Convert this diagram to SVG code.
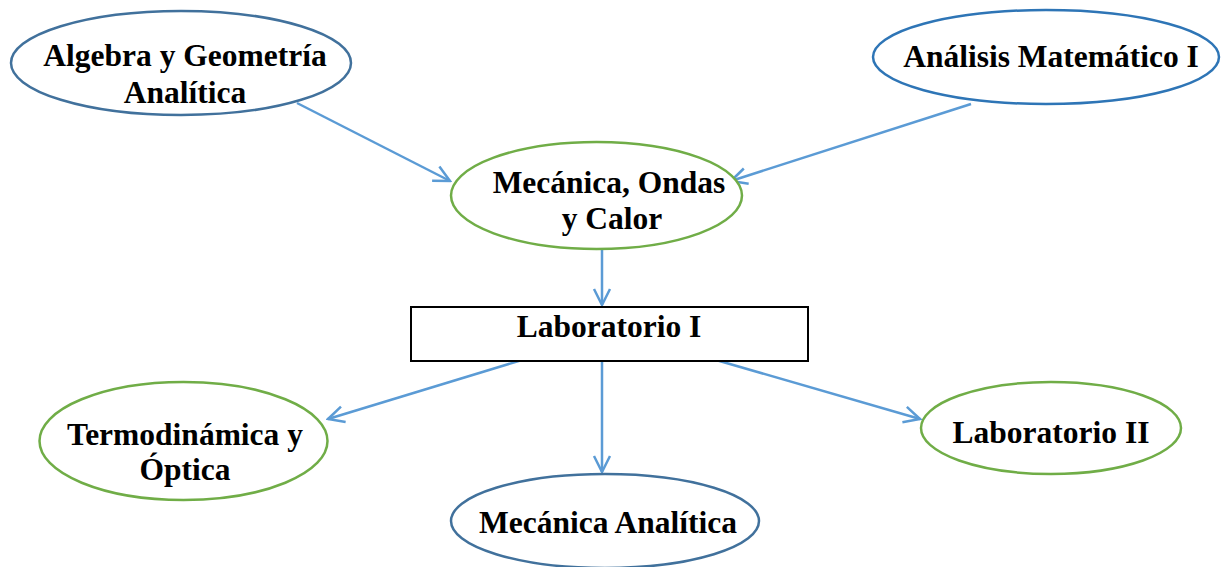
<svg xmlns="http://www.w3.org/2000/svg" width="1222" height="567" viewBox="0 0 1222 567">
<style>
.t{font-family:"Liberation Serif","Times New Roman",serif;font-weight:bold;font-size:31.5px;fill:#000;text-anchor:middle}
.blue{fill:#fff;stroke:#41719C;stroke-width:2.5}
.blue2{fill:#fff;stroke:#2E75B6;stroke-width:2.5}
.green{fill:#fff;stroke:#70AD47;stroke-width:2.5}
.c{stroke:#5B9BD5;stroke-width:2.5;fill:none;marker-end:url(#arr)}
</style>
<defs>
<marker id="arr" viewBox="0 0 20 20" refX="18" refY="10" markerWidth="20" markerHeight="20" markerUnits="userSpaceOnUse" orient="auto">
<path d="M2,2 L18,10 L2,18" fill="none" stroke="#5B9BD5" stroke-width="2.5"/>
</marker>
</defs>
<rect width="1222" height="567" fill="#fff"/>
<g id="connectors">
<line class="c" x1="297" y1="103" x2="450" y2="181"/>
<line class="c" x1="971" y1="104" x2="731" y2="181"/>
<line class="c" x1="602" y1="250" x2="602" y2="305"/>
<line class="c" x1="522" y1="360" x2="328" y2="419"/>
<line class="c" x1="602" y1="361" x2="602" y2="472"/>
<line class="c" x1="716" y1="360" x2="920" y2="419"/>
</g>
<g id="algebra">
<ellipse class="blue" cx="181" cy="63" rx="170" ry="52"/>
<text class="t" x="185" y="66">Algebra y Geometría</text>
<text class="t" x="185" y="103">Analítica</text>
</g>
<g id="analisis">
<ellipse class="blue2" cx="1046" cy="57" rx="173" ry="47"/>
<text class="t" x="1051" y="67">Análisis Matemático I</text>
</g>
<g id="mecanica">
<ellipse class="green" cx="596.5" cy="195.5" rx="145.5" ry="53.5"/>
<text class="t" x="609" y="193">Mecánica, Ondas</text>
<text class="t" x="612" y="229">y Calor</text>
</g>
<g id="lab1">
<rect x="411" y="307" width="397" height="54" fill="#fff" stroke="#000" stroke-width="2"/>
<text class="t" x="609" y="337">Laboratorio I</text>
</g>
<g id="termo">
<ellipse class="green" cx="183.5" cy="441" rx="144" ry="59"/>
<text class="t" x="185" y="445">Termodinámica y</text>
<text class="t" x="185" y="480">Óptica</text>
</g>
<g id="mecanal">
<ellipse class="blue" cx="605" cy="521" rx="154" ry="47"/>
<text class="t" x="608" y="533">Mecánica Analítica</text>
</g>
<g id="lab2">
<ellipse class="green" cx="1051" cy="428" rx="130" ry="46"/>
<text class="t" x="1051" y="443">Laboratorio II</text>
</g>
</svg>
